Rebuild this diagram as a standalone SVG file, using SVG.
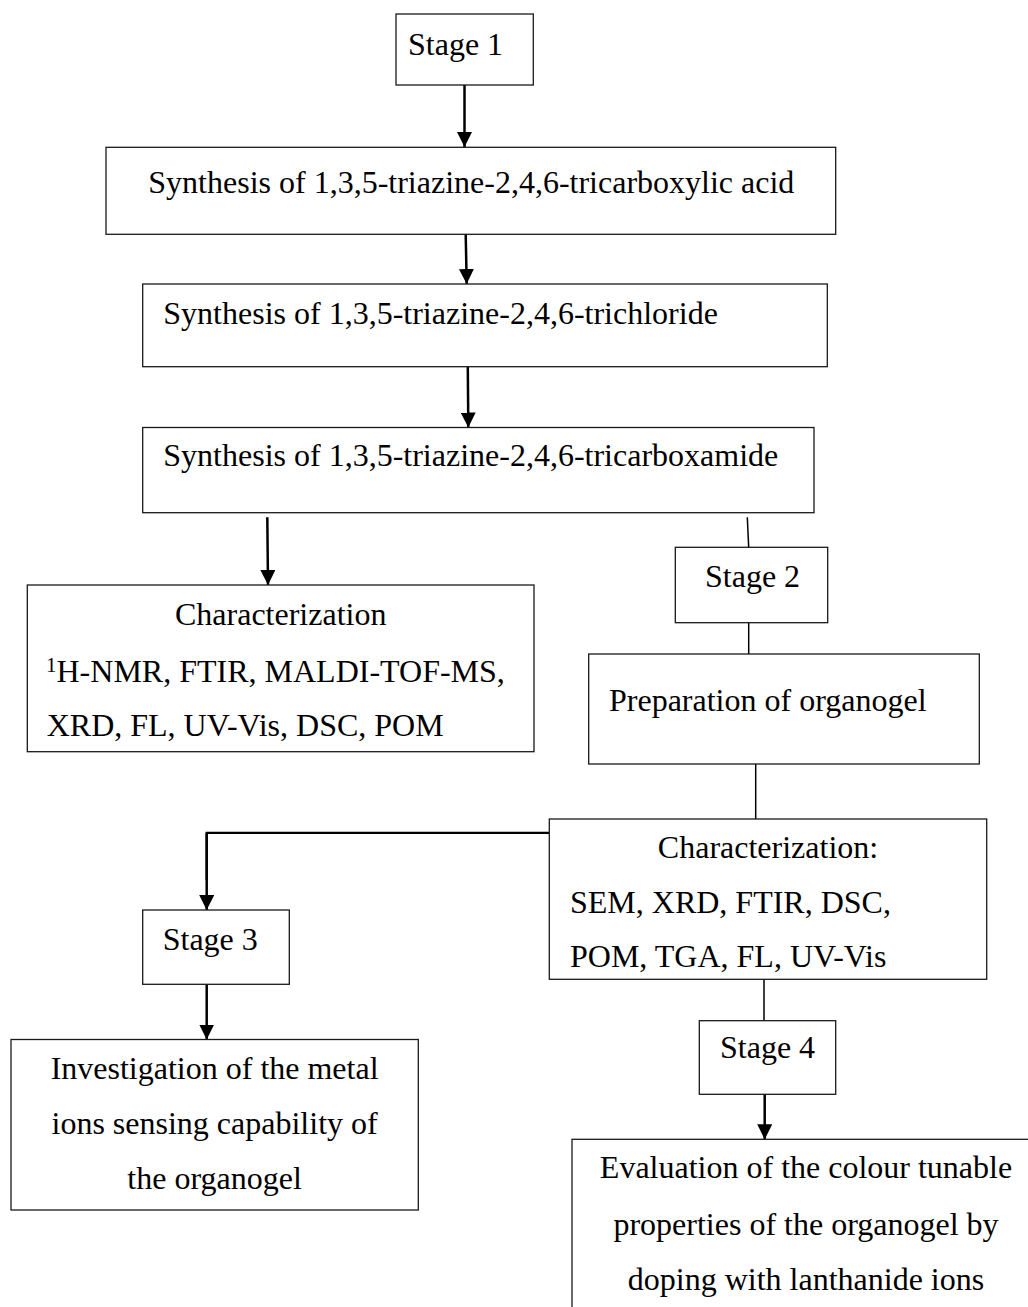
<svg xmlns="http://www.w3.org/2000/svg" width="1028" height="1307" viewBox="0 0 1028 1307">
  <style>
    .box { fill: #ffffff; stroke: #1a1a1a; stroke-width: 1.3; }
    .t { font-family: "Liberation Serif", "Times New Roman", serif; font-size: 32px; fill: #000000; }
    .c { text-anchor: middle; }
    .arrow { fill: none; stroke: #000000; stroke-width: 2.5; marker-end: url(#ah); }
    .thin { fill: none; stroke: #000000; stroke-width: 1.5; }
    .elbow { fill: none; stroke: #000000; stroke-width: 2.2; }
  </style>
  <defs>
    <marker id="ah" markerUnits="userSpaceOnUse" markerWidth="15" markerHeight="15" refX="15" refY="7.5" orient="auto">
      <path d="M0,0 L15,7.5 L0,15 z" fill="#000000"/>
    </marker>
  </defs>
  <rect width="1028" height="1307" fill="#ffffff"/>

  <g id="connectors">
    <line class="arrow" x1="464.5" y1="85" x2="464.5" y2="147"/>
    <line class="arrow" x1="465.7" y1="234" x2="466.7" y2="284"/>
    <line class="arrow" x1="467.8" y1="367" x2="468.3" y2="427.5"/>
    <line class="arrow" x1="267.3" y1="517.3" x2="268" y2="585"/>
    <line class="thin" x1="747.3" y1="517.3" x2="748.7" y2="547.3"/>
    <line class="thin" x1="748.7" y1="622.7" x2="748.7" y2="654"/>
    <line class="thin" x1="755.7" y1="764" x2="755.7" y2="819"/>
    <path class="elbow" d="M549.3,832.8 L206.7,832.8 L206.7,880"/>
    <line class="arrow" x1="206.7" y1="832.8" x2="206.7" y2="910"/>
    <line class="arrow" x1="206.7" y1="984.3" x2="206.7" y2="1039.5"/>
    <line class="thin" x1="764" y1="979.3" x2="764" y2="1020.7"/>
    <line class="arrow" x1="764.7" y1="1094.3" x2="764.7" y2="1139.3"/>
  </g>

  <g id="stage1">
    <rect class="box" x="396" y="14" width="137.3" height="71"/>
    <text class="t" x="408" y="55">Stage 1</text>
  </g>

  <g id="synth-acid">
    <rect class="box" x="106" y="147.3" width="729.7" height="87"/>
    <text class="t" x="148.3" y="193.3">Synthesis of 1,3,5-triazine-2,4,6-tricarboxylic acid</text>
  </g>

  <g id="synth-chloride">
    <rect class="box" x="142.7" y="284" width="684.6" height="82.7"/>
    <text class="t" x="163.3" y="324">Synthesis of 1,3,5-triazine-2,4,6-trichloride</text>
  </g>

  <g id="synth-amide">
    <rect class="box" x="142.7" y="427.5" width="671.3" height="85.2"/>
    <text class="t" x="163.3" y="466">Synthesis of 1,3,5-triazine-2,4,6-tricarboxamide</text>
  </g>

  <g id="characterization1">
    <rect class="box" x="27.3" y="585" width="506.7" height="166.7"/>
    <text class="t c" x="280.7" y="625">Characterization</text>
    <text class="t" x="46" y="681.7"><tspan font-size="21" dy="-10">1</tspan><tspan dy="10">H-NMR, FTIR, MALDI-TOF-MS,</tspan></text>
    <text class="t" x="46.7" y="736">XRD, FL, UV-Vis, DSC, POM</text>
  </g>

  <g id="stage2">
    <rect class="box" x="675.3" y="547.3" width="152.4" height="75.4"/>
    <text class="t" x="705" y="587.3">Stage 2</text>
  </g>

  <g id="preparation">
    <rect class="box" x="588.7" y="654" width="390.6" height="110"/>
    <text class="t" x="609" y="711">Preparation of organogel</text>
  </g>

  <g id="characterization2">
    <rect class="box" x="549.3" y="819" width="437.4" height="160.3"/>
    <text class="t c" x="768" y="858.3">Characterization:</text>
    <text class="t" x="570" y="912.7">SEM, XRD, FTIR, DSC,</text>
    <text class="t" x="570" y="966.7">POM, TGA, FL, UV-Vis</text>
  </g>

  <g id="stage3">
    <rect class="box" x="142.7" y="910" width="146.6" height="74.3"/>
    <text class="t" x="162.7" y="950">Stage 3</text>
  </g>

  <g id="investigation">
    <rect class="box" x="11" y="1039.5" width="407.3" height="170.5"/>
    <text class="t c" x="214.6" y="1079.3">Investigation of the metal</text>
    <text class="t c" x="214.6" y="1134.3">ions sensing capability of</text>
    <text class="t c" x="214.6" y="1189.3">the organogel</text>
  </g>

  <g id="stage4">
    <rect class="box" x="699.3" y="1020.7" width="136.4" height="73.6"/>
    <text class="t" x="720" y="1058.3">Stage 4</text>
  </g>

  <g id="evaluation">
    <rect class="box" x="572" y="1139.3" width="470" height="190"/>
    <text class="t c" x="806" y="1178.3">Evaluation of the colour tunable</text>
    <text class="t c" x="806" y="1235">properties of the organogel by</text>
    <text class="t c" x="806" y="1290">doping with lanthanide ions</text>
  </g>
</svg>
